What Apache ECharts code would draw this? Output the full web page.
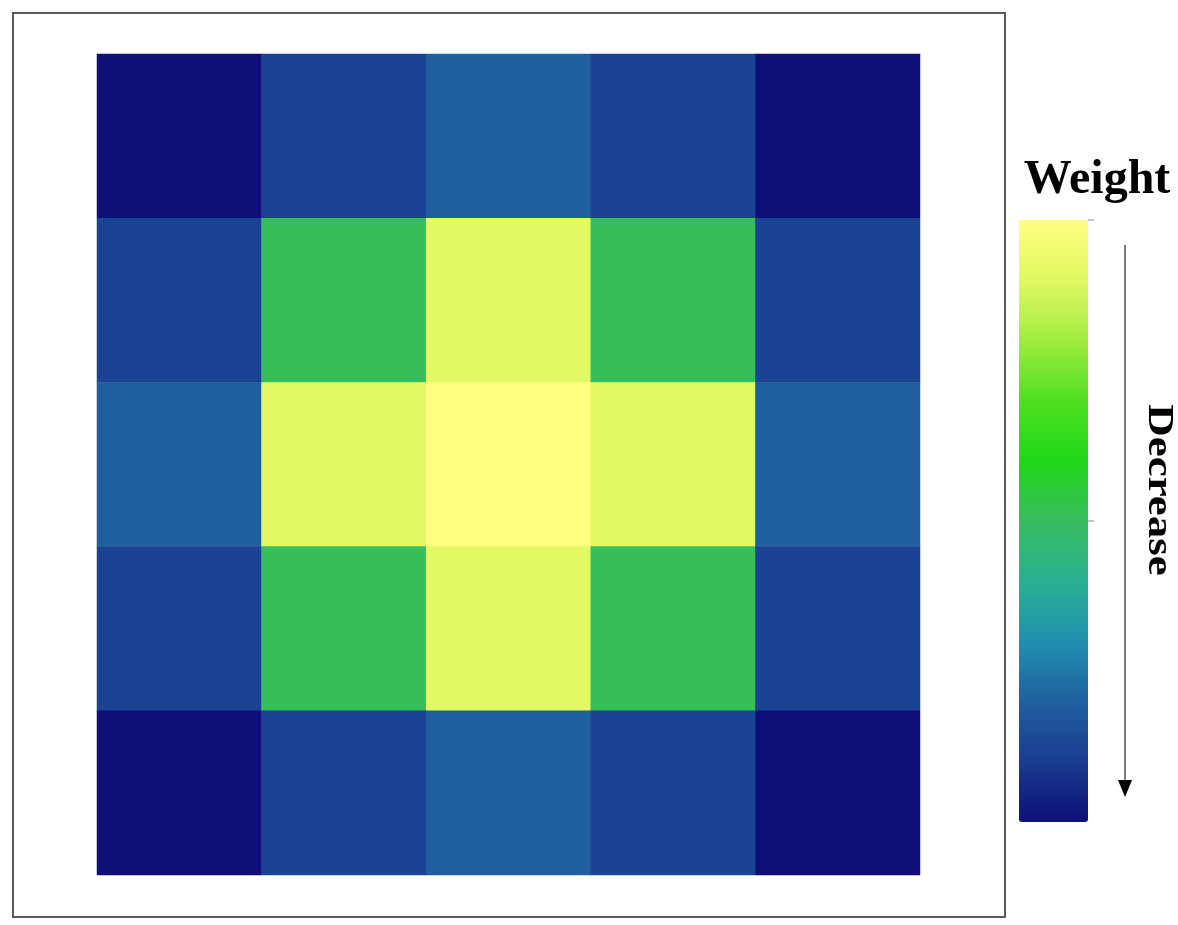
<!DOCTYPE html>
<html>
<head>
<meta charset="utf-8">
<script src="https://cdn.jsdelivr.net/npm/echarts@6/dist/echarts.min.js"></script>
<style>
  html, body { margin: 0; padding: 0; background: #fff; }
  #chartmain { width: 1178px; height: 925px; }
</style>
</head>
<body>
<div id="chartmain"></div>
<script>
var cols = ['c1', 'c2', 'c3', 'c4', 'c5']
var rows = ['r1', 'r2', 'r3', 'r4', 'r5']
// weight of each cell, row by row from the top
var row1 = [0.0, 0.12, 0.2, 0.12, 0.0]
var row2 = [0.12, 0.51, 0.91, 0.51, 0.12]
var row3 = [0.2, 0.91, 1.0, 0.91, 0.2]
var row4 = [0.12, 0.51, 0.91, 0.51, 0.12]
var row5 = [0.0, 0.12, 0.2, 0.12, 0.0]
var weightRows = [row1, row2, row3, row4, row5]
// colour bar stops, low to high
var barColors = ['#0e1078', '#1a3c90', '#2060a0', '#2090b0', '#28b090', '#38bc60',
  '#20d818', '#50e020', '#a0ec40', '#e0f860', '#ffff80']

var cells = []
weightRows.forEach(function (r, i) {
  r.forEach(function (v, j) {
    cells.push([j, i, v])
  })
})

var serif = '"Liberation Serif", "DejaVu Serif", serif'

var option = {
  backgroundColor: '#fff',
  animation: false,
  grid: {
    left: 97,
    top: 54,
    width: 823,
    height: 821,
  },
  xAxis: {
    type: 'category',
    data: cols,
    show: false,
  },
  yAxis: {
    type: 'category',
    data: rows,
    inverse: true,
    show: false,
  },
  visualMap: {
    type: 'continuous',
    min: 0,
    max: 1,
    orient: 'vertical',
    left: 1004,
    top: 205,
    itemWidth: 69,
    itemHeight: 602,
    calculable: false,
    text: null,
    inRange: { color: barColors },
  },
  graphic: [
    {
      type: 'rect',
      shape: { x: 13, y: 13, width: 992, height: 904 },
      style: { fill: 'none', stroke: '#5a5a5a', lineWidth: 2 },
    },
    {
      type: 'text',
      x: 1097,
      y: 181,
      style: {
        text: 'Weight',
        font: 'bold 48px ' + serif,
        fill: '#000',
        textAlign: 'center',
        textVerticalAlign: 'middle',
      },
    },
    {
      type: 'text',
      x: 1158,
      y: 490,
      rotation: -Math.PI / 2,
      scaleX: 1.25,
      style: {
        text: 'Decrease',
        font: 'bold 36px ' + serif,
        fill: '#000',
        textAlign: 'center',
        textVerticalAlign: 'middle',
      },
    },
    {
      type: 'line',
      shape: { x1: 1125, y1: 245, x2: 1125, y2: 785 },
      style: { stroke: '#7a7a7a', lineWidth: 2 },
    },
    {
      type: 'polygon',
      shape: { points: [[1118, 780], [1132, 780], [1125, 797]] },
      style: { fill: '#000' },
    },
    {
      type: 'line',
      shape: { x1: 1088, y1: 220, x2: 1094, y2: 220 },
      style: { stroke: '#888', lineWidth: 1 },
    },
    {
      type: 'line',
      shape: { x1: 1088, y1: 521, x2: 1094, y2: 521 },
      style: { stroke: '#888', lineWidth: 1 },
    },
  ],
  series: [
    {
      type: 'heatmap',
      data: cells,
      itemStyle: { borderWidth: 0 },
      emphasis: { disabled: true },
    },
  ],
}

var myChart = echarts.init(document.getElementById('chartmain'))
myChart.setOption(option)
</script>
</body>
</html>
